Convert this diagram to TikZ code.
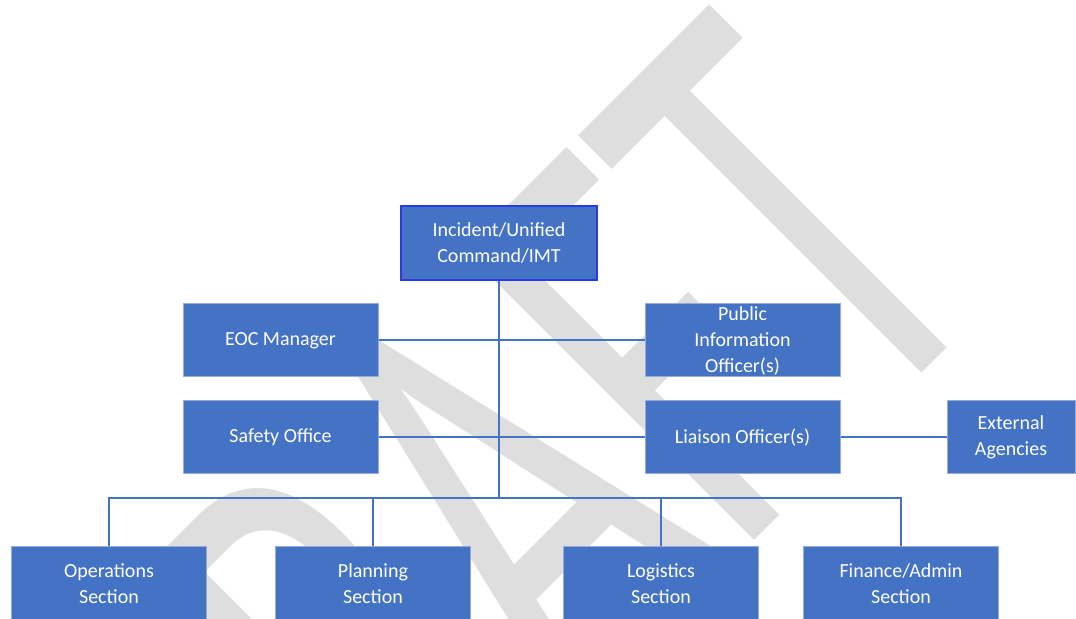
\documentclass[tikz,border=0pt]{standalone}
\usepackage{fontspec}
\setmainfont{Carlito}
\newfontfamily\wmfont{Carlito}
\definecolor{box_blue}{RGB}{68, 114, 196}
\definecolor{box_edge}{RGB}{150, 172, 214}
\definecolor{top_edge}{RGB}{40, 60, 225}
\definecolor{wm_grey}{RGB}{222, 222, 222}
\tikzstyle{box}=[rectangle,fill=box_blue,draw=box_edge,line width=0.5pt,
  text=white,align=center,font=\fontsize{10}{13}\selectfont,
  inner sep=0pt,minimum width=97.5pt,minimum height=36.5pt]
\tikzstyle{topbox}=[box,draw=top_edge,line width=1pt,minimum width=98pt,minimum height=37pt]
\tikzstyle{smallbox}=[box,minimum width=64pt]
\tikzstyle{watermark}=[text=wm_grey,font=\wmfont\fontsize{200}{200}\selectfont,
  inner sep=0pt,anchor=base west,rotate=45,yscale=1.6]
\tikzstyle{link}=[draw=box_blue,line width=1pt]
\tikzstyle{none}=[]

\begin{document}
\begin{tikzpicture}[x=0.5pt, y=-0.5pt]
    \useasboundingbox (0, 0) rectangle (1076, 619);
    \clip (0, 0) rectangle (1076, 619);
    \node [style=watermark] (20) at (244, 1051) {DRAFT};
    \node [style=topbox] (0) at (499, 243) {Incident/Unified\\Command/IMT};
    \node [style=box] (1) at (280.5, 340.5) {EOC Manager};
    \node [style=box] (2) at (742.5, 340.5) {Public\\Information\\Officer(s)};
    \node [style=box] (3) at (280.5, 437.5) {Safety Office};
    \node [style=box] (4) at (742.5, 437.5) {Liaison Officer(s)};
    \node [style=smallbox] (5) at (1011, 437.5) {External\\Agencies};
    \node [style=box] (6) at (109, 583.5) {Operations\\Section};
    \node [style=box] (7) at (373, 583.5) {Planning\\Section};
    \node [style=box] (8) at (661, 583.5) {Logistics\\Section};
    \node [style=box] (9) at (901, 583.5) {Finance/Admin\\Section};
    \node [style=none] (10) at (499, 498) {};
    \draw [style=link] (0) to (10.center);
    \draw [style=link] (6) |- (10.center) -| (9);
    \draw [style=link] (7) to (7 |- 10.center);
    \draw [style=link] (8) to (8 |- 10.center);
    \draw [style=link] (1) to (2);
    \draw [style=link] (3) to (4);
    \draw [style=link] (4) to (5);
\end{tikzpicture}
\end{document}
